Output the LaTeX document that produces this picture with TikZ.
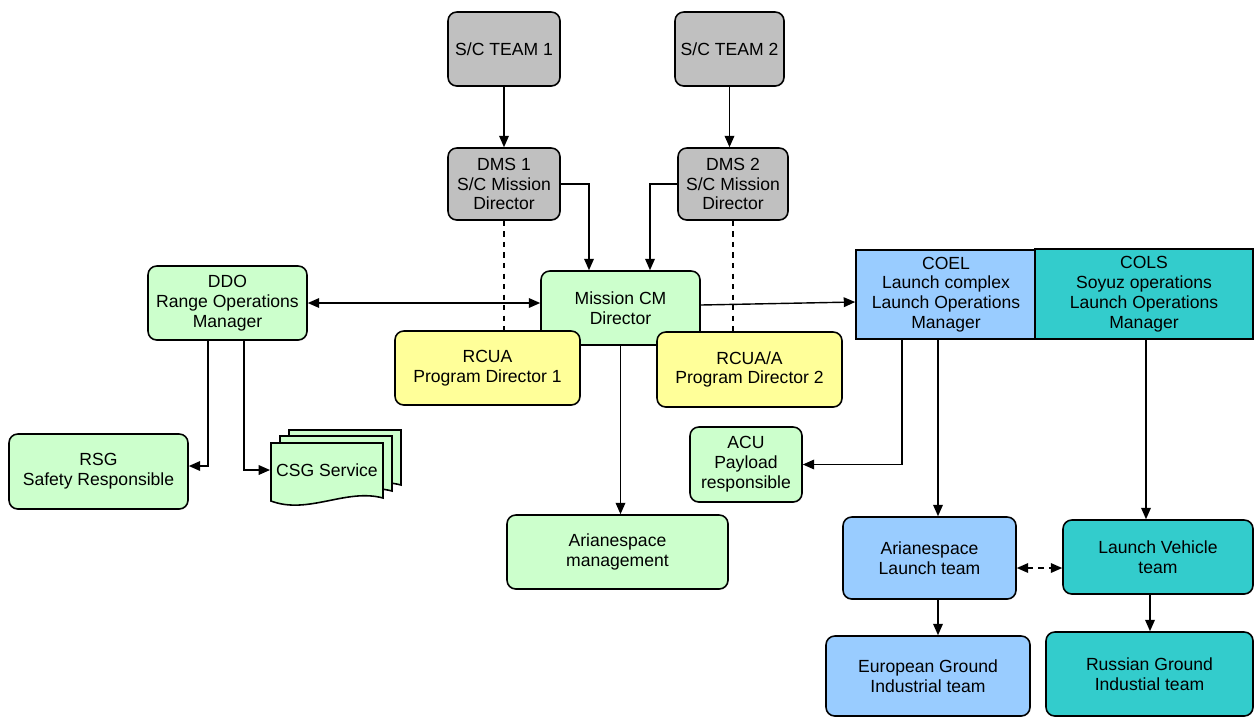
\documentclass[tikz,border=0pt]{standalone}
\usepackage{fontspec}
\setmainfont{Liberation Sans}
\usetikzlibrary{arrows.meta}
\definecolor{scgray}{HTML}{C0C0C0}
\definecolor{opgreen}{HTML}{CCFFCC}
\definecolor{pdyellow}{HTML}{FFFF99}
\definecolor{eublue}{HTML}{99CCFF}
\definecolor{rutea}{HTML}{33CCCC}
\begin{document}
\begin{tikzpicture}[
    x=0.02cm, y=-0.02cm,
    font=\fontsize{10}{11.3}\selectfont,
    box/.style={draw, line width=0.9pt, rounded corners=5pt, align=center, inner sep=2pt},
    sqbox/.style={draw, line width=0.9pt, align=center, inner sep=2pt},
    sz/.style 2 args={minimum width=#1*0.02cm, minimum height=#2*0.02cm},
    arrow/.style={-{Triangle[length=6.5pt,width=5.5pt]}, line width=0.8pt},
    darrow/.style={{Triangle[length=6.5pt,width=5.5pt]}-{Triangle[length=6.5pt,width=5.5pt]}, line width=0.8pt}
]
\useasboundingbox (0,0) rectangle (1255,718);
% spacecraft side
\node[box, sz={112}{74}, fill=scgray] (team1) at (504,49) {S/C TEAM 1};
\node[box, sz={109}{74}, fill=scgray] (team2) at (729.5,49) {S/C TEAM 2};
\node[box, sz={112}{72}, fill=scgray] (dms1) at (504,184) {DMS 1\\S/C Mission\\Director};
\node[box, sz={110}{72}, fill=scgray] (dms2) at (733,184) {DMS 2\\S/C Mission\\Director};
% operations
\node[box, sz={159}{74}, fill=opgreen] (ddo) at (227.5,303) {DDO\\Range Operations\\Manager};
\node[box, sz={159}{74}, fill=opgreen] (mcm) at (620.5,308) {Mission CM\\Director};
\node[box, sz={185}{74}, fill=pdyellow] (rcua) at (487.5,368) {RCUA\\Program Director 1};
\node[box, sz={185}{75}, fill=pdyellow] (rcuaa) at (749.5,369.5) {RCUA/A\\Program Director 2};
\node[sqbox, sz={180}{89}, fill=eublue] (coel) at (946,294.5) {COEL\\Launch complex\\Launch Operations\\Manager};
\node[sqbox, sz={218}{90}, fill=rutea] (cols) at (1144,294) {COLS\\Soyuz operations\\Launch Operations\\Manager};
\node[box, sz={179}{75}, fill=opgreen] (rsg) at (98.5,471.5) {RSG\\Safety Responsible};
\node[box, sz={112}{75}, fill=opgreen] (acu) at (746,464.5) {ACU\\Payload\\responsible};
\node[box, sz={221}{74}, fill=opgreen] (mgmt) at (617.5,552) {Arianespace\\management};
\node[box, sz={173}{82}, fill=eublue] (alt) at (929.5,558) {Arianespace\\Launch team};
\node[box, sz={190}{74}, fill=rutea] (lvt) at (1158,557) {Launch Vehicle\\team};
\node[box, sz={204}{80}, fill=eublue] (egi) at (928,676) {European Ground\\Industrial team};
\node[box, sz={207}{84}, fill=rutea] (rgi) at (1149.5,674) {Russian Ground\\Industial team};
% CSG service (stacked pages)
\foreach \dx/\dy in {18/-13, 9/-7, 0/0}
  \draw[line width=0.9pt, fill=opgreen, shift={(271+\dx,443+\dy)}]
    (0,0) -- (112,0) -- (112,55) .. controls (75,45) and (37,72) .. (0,58) -- cycle;
\node[sz={112}{56}] (csg) at (327,470) {CSG Service};
% connector columns
\foreach \n/\x in {ca/589, cb/650, cc/208, cd/244, ce/902, cf/938, cg/1146, ch/1150}
  \coordinate (\n) at (\x,0);
\coordinate (ry) at (0,568);
\draw[arrow] (team1) -- (dms1);
\draw[arrow] (team2.south) -- (team2.south |- dms2.north);
\draw[arrow] (dms1.east) -| (ca |- mcm.north);
\draw[arrow] (dms2.west) -| (cb |- mcm.north);
\draw[dashed, line width=0.8pt] (dms1.south) -- (dms1.south |- rcua.north);
\draw[dashed, line width=0.8pt] (dms2.south) -- (dms2.south |- rcuaa.north);
\draw[darrow] (ddo.east) -- (ddo.east -| mcm.west);
\draw[arrow] ([yshift=0.06cm]mcm.east) -- ([yshift=-0.15cm]coel.west);
\draw[arrow] (cc |- ddo.south) |- ([yshift=0.11cm]rsg.east);
\draw[arrow] (cd |- ddo.south) |- (csg.west);
\draw[arrow] (mcm.south) -- (mcm.south |- mgmt.north);
\draw[arrow] (ce |- coel.south) |- (acu.east);
\draw[arrow] (cf |- coel.south) -- (cf |- alt.north);
\draw[arrow] (cg |- cols.south) -- (cg |- lvt.north);
\draw[darrow, dashed] (alt.east |- ry) -- (lvt.west |- ry);
\draw[arrow] (cf |- alt.south) -- (cf |- egi.north);
\draw[arrow] (ch |- lvt.south) -- (ch |- rgi.north);
\end{tikzpicture}
\end{document}
